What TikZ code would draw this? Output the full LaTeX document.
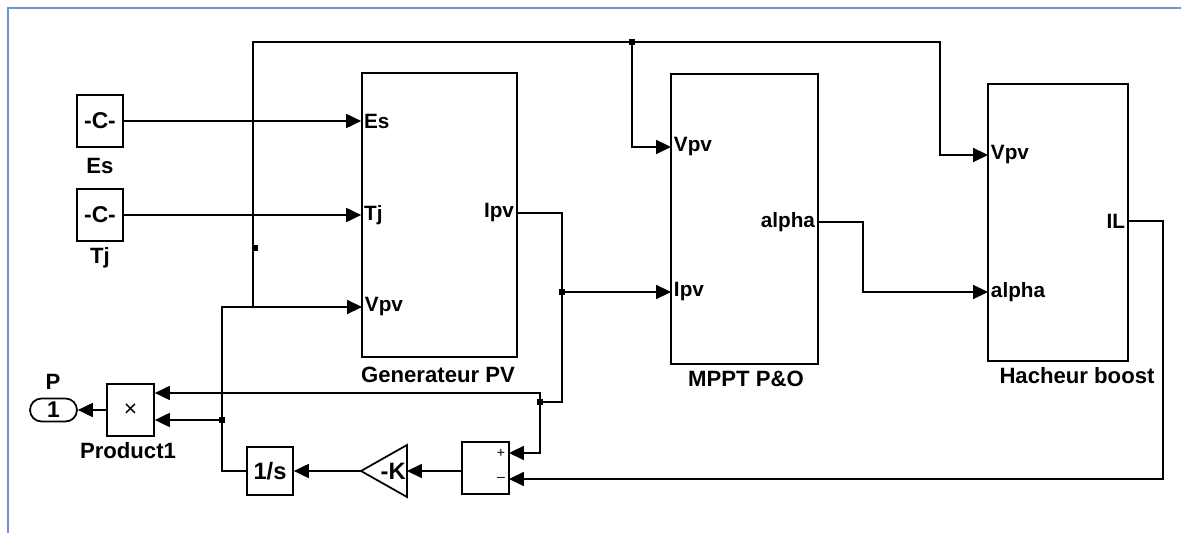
\documentclass[tikz,border=0pt]{standalone}
\usepackage{fontspec}
\setmainfont{Liberation Sans}
\usetikzlibrary{arrows.meta,positioning,calc}
\definecolor{slFrame}{RGB}{110,150,205}

\begin{document}
\begin{tikzpicture}[x=0.02cm, y=-0.02cm,
    blk/.style={rectangle, draw, line width=1pt, inner sep=0pt,
                font=\bfseries\fontsize{13}{15}\selectfont},
    port/.style={inner sep=1.5pt, font=\bfseries\fontsize{11.8}{14}\selectfont},
    blklbl/.style={inner sep=0pt, font=\bfseries\fontsize{12.6}{15}\selectfont},
    sig/.style={-{Triangle[length=8.5pt,width=8pt]}, line width=0.9pt},
    jdot/.style={rectangle, fill, minimum size=3.2pt, inner sep=0pt}
  ]
  \useasboundingbox (0,0) rectangle (1181,533);
  \draw[slFrame, line width=1.4pt] (8,533) -- (8,8) -- (1181,8);

  % Sources
  \node[blk, minimum width=0.92cm, minimum height=1.04cm] (es) at (100,121) {-C-};
  \node[blk, minimum width=0.92cm, minimum height=1.04cm] (tj) at (100,215) {-C-};
  \node[blklbl] (es-lbl) at (100,166) {Es};
  \node[blklbl] (tj-lbl) at (100,258) {Tj};

  % Subsystems
  \node[blk, minimum width=3.1cm,  minimum height=5.68cm] (gen)  at (439.5,215) {};
  \node[blk, minimum width=2.94cm, minimum height=5.8cm]  (mppt) at (744.5,219) {};
  \node[blk, minimum width=2.8cm,  minimum height=5.54cm] (hach) at (1058,222.5) {};
  \node[blklbl] (gen-lbl)  at (438,375)  {Generateur PV};
  \node[blklbl] (mppt-lbl) at (746,379)  {MPPT P\&O};
  \node[blklbl] (hach-lbl) at (1077,376) {Hacheur boost};

  % Ports
  \coordinate (gen-vpv)    at (362,307);
  \coordinate (gen-ipv)    at (517,213);
  \coordinate (mppt-vpv)   at (671,147);
  \coordinate (mppt-ipv)   at (671,292);
  \coordinate (mppt-alpha) at (818,222);
  \coordinate (hach-vpv)   at (988,155);
  \coordinate (hach-alpha) at (988,292);
  \coordinate (hach-il)    at (1128,221);
  \node[port, anchor=west] (gen-es-t)  at (es.east -| gen.west) {Es};
  \node[port, anchor=west] (gen-tj-t)  at (tj.east -| gen.west) {Tj};
  \node[port, anchor=west] (gen-vpv-t) at (gen-vpv) {Vpv};
  \node[port, anchor=east] (gen-ipv-t) at (gen-ipv) {Ipv};
  \node[port, anchor=west] (mppt-vpv-t)   at (mppt-vpv) {Vpv};
  \node[port, anchor=west] (mppt-ipv-t)   at (mppt-ipv) {Ipv};
  \node[port, anchor=east] (mppt-alpha-t) at (mppt-alpha) {alpha};
  \node[port, anchor=west] (hach-vpv-t)   at (hach-vpv) {Vpv};
  \node[port, anchor=west] (hach-alpha-t) at (hach-alpha) {alpha};
  \node[port, anchor=east] (hach-il-t)    at (hach-il) {IL};

  % Power loop
  \node[blk, minimum width=0.94cm, minimum height=1.04cm] (prod) at (130.5,410)
       {\mdseries\fontsize{13}{15}\selectfont ×};
  \node[blk, rounded corners=0.23cm, minimum width=0.94cm, minimum height=0.46cm]
       (outP) at (53.5,410) {1};
  \node[blklbl] (outP-lbl) at (53,382) {P};
  \node[blklbl] (prod-lbl) at (128,451) {Product1};
  \node[blk, font=\bfseries\fontsize{13.5}{15}\selectfont,
        minimum width=0.92cm, minimum height=0.96cm] (integ) at (270,471) {1/s};
  \node[blk, minimum width=0.94cm, minimum height=1.04cm] (sum) at (485.5,468) {};
  \node[inner sep=0pt, font=\fontsize{8}{9}\selectfont] (sum-pt) at (501,453) {+};
  \node[inner sep=0pt, font=\fontsize{8}{9}\selectfont] (sum-mt) at (501,479) {--};
  \coordinate (sum-p)   at (509,453);
  \coordinate (sum-m)   at (509,479);
  \coordinate (sum-out) at (462,471);
  \coordinate (gain-in)  at (407,471);
  \coordinate (gain-out) at (361,471);
  \draw[line width=1pt] (407,445) -- (gain-out) -- (407,497) -- cycle;
  \node[blklbl, font=\bfseries\fontsize{13.5}{15}\selectfont, anchor=east]
       (gain) at (406,471) {-K};

  % Branch points
  \coordinate (j-ipv)  at (562,292);
  \coordinate (j-prod) at (540,402);
  \coordinate (j-int)  at (222,420);
  \coordinate (j-top)  at (253,307);
  \coordinate (j-mppt) at (632,42);
  \coordinate (c-top)  at (940,42);

  % Signals
  \draw[sig] (es.east) -- (es.east -| gen.west);
  \draw[sig] (tj.east) -- (tj.east -| gen.west);
  \draw[sig] (gen-ipv) -| (j-ipv |- j-prod) -- (j-prod) |- (sum-p);
  \draw[sig] (j-ipv) -- (mppt-ipv);
  \draw[sig] (j-prod) |- (prod.east |- 0,393);
  \draw[sig] (mppt-alpha) -- ++(45,0) |- (hach-alpha);
  \draw[sig] (hach-il) -- ++(35,0) |- (sum-m);
  \draw[sig] (sum-out) -- (gain-in);
  \draw[sig] (gain-out) -- (integ.east);
  \draw[sig] (integ.west) -| (j-int) |- (gen-vpv);
  \draw[sig] (j-int) -- (j-int -| prod.east);
  \draw[sig] (j-top) |- (c-top) |- (hach-vpv);
  \draw[sig] (j-mppt) |- (mppt-vpv);
  \draw[sig] (prod.west) -- (outP.east);

  \node[jdot] (d1) at (j-mppt) {};
  \node[jdot] (d2) at (j-ipv) {};
  \node[jdot] (d3) at (j-prod) {};
  \node[jdot] (d4) at (j-int) {};
  \node[jdot] (d5) at (255,248) {};
\end{tikzpicture}
\end{document}
